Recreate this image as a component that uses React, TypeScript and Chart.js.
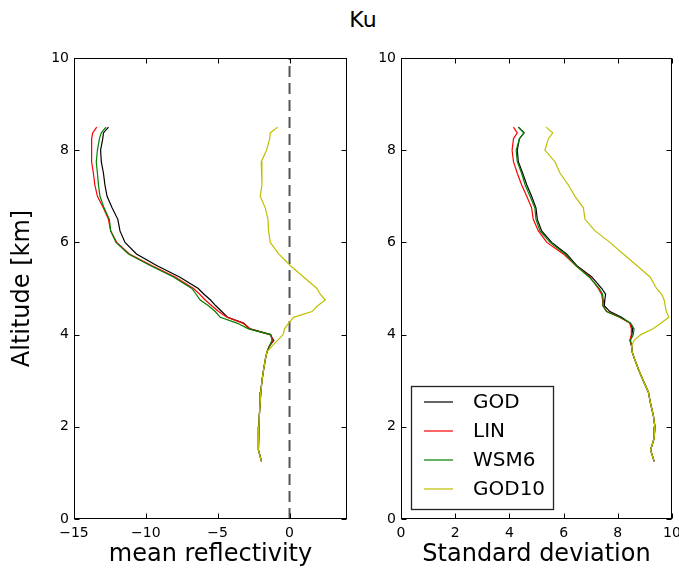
import React, { useEffect, useRef } from "react";
import { Chart, registerables } from "chart.js";

Chart.register(...registerables);

// ---------------- data ----------------
const altitude = [
  8.5, 8.375, 8.25, 8.0, 7.75, 7.5, 7.25, 7.0, 6.75, 6.5, 6.25, 6.0, 5.75, 5.5, 5.25, 5.0,
  4.875, 4.75, 4.625, 4.5, 4.375, 4.25, 4.125, 4.0, 3.875, 3.75, 3.625, 3.5, 3.25, 3.0,
  2.75, 2.5, 2.25, 2.0, 1.75, 1.5, 1.25,
];

// mean reflectivity
const godMean = [
  -12.6, -12.95, -13.0, -13.15, -13.1, -12.95, -12.85, -12.7, -12.35, -11.95, -11.8, -11.45,
  -10.65, -9.25, -7.65, -6.35, -5.95, -5.5, -5.13, -4.72, -4.3, -3.2, -2.75, -1.35, -1.1,
  -1.4, -1.57, -1.66, -1.8, -1.92, -2.0, -2.05, -2.1, -2.13, -2.15, -2.18, -1.95,
];
const linMean = [
  -13.42, -13.7, -13.77, -13.8, -13.75, -13.65, -13.55, -13.37, -12.96, -12.6, -12.45, -12.03,
  -11.14, -9.6, -7.95, -6.68, -6.25, -5.87, -5.41, -4.94, -4.36, -3.25, -2.75, -1.32, -1.15,
  -1.4, -1.57, -1.66, -1.8, -1.92, -2.0, -2.05, -2.1, -2.13, -2.15, -2.18, -1.95,
];
const wsm6Mean = [
  -12.77, -13.1, -13.23, -13.37, -13.45, -13.37, -13.3, -13.19, -12.91, -12.54, -12.45, -12.08,
  -11.21, -9.7, -8.08, -6.8, -6.5, -6.22, -5.64, -5.17, -4.82, -3.66, -2.85, -1.3, -1.22,
  -1.4, -1.57, -1.66, -1.8, -1.92, -2.0, -2.05, -2.1, -2.13, -2.15, -2.18, -1.95,
];
const god10Mean = [
  -0.83, -1.34, -1.38, -1.6, -1.97, -1.92, -1.92, -2.04, -1.69, -1.5, -1.46, -1.34,
  -0.76, 0.05, 0.98, 1.91, 2.14, 2.49, 1.96, 1.56, 0.28, -0.06, -0.35, -0.45, -0.83,
  -1.22, -1.57, -1.66, -1.8, -1.92, -2.0, -2.05, -2.1, -2.13, -2.15, -2.18, -1.95,
];

// standard deviation
const godStd = [
  4.33, 4.54, 4.37, 4.29, 4.33, 4.49, 4.64, 4.82, 4.98, 5.03, 5.19, 5.56, 6.11, 6.48, 7.04,
  7.41, 7.55, 7.52, 7.5, 7.71, 8.14, 8.45, 8.55, 8.52, 8.45, 8.51, 8.53, 8.6, 8.76, 8.94,
  9.13, 9.21, 9.31, 9.37, 9.34, 9.21, 9.34,
];
const linStd = [
  4.15, 4.29, 4.15, 4.1, 4.15, 4.29, 4.45, 4.64, 4.82, 4.88, 5.07, 5.38, 5.99, 6.45, 6.97,
  7.28, 7.4, 7.44, 7.45, 7.6, 8.07, 8.44, 8.5, 8.5, 8.45, 8.51, 8.53, 8.6, 8.76, 8.94,
  9.13, 9.21, 9.31, 9.37, 9.34, 9.21, 9.34,
];
const wsm6Std = [
  4.33, 4.54, 4.37, 4.25, 4.29, 4.45, 4.58, 4.76, 4.94, 4.98, 5.13, 5.5, 6.05, 6.45, 6.94,
  7.32, 7.44, 7.46, 7.45, 7.58, 8.07, 8.47, 8.6, 8.57, 8.47, 8.51, 8.53, 8.6, 8.76, 8.94,
  9.13, 9.21, 9.31, 9.37, 9.34, 9.21, 9.34,
];
const god10Std = [
  5.35, 5.6, 5.44, 5.31, 5.68, 5.87, 6.17, 6.42, 6.73, 6.79, 7.16, 7.71, 8.2, 8.7, 9.19,
  9.43, 9.62, 9.71, 9.75, 9.79, 9.88, 9.6, 9.3, 8.85, 8.6, 8.51, 8.53, 8.6, 8.76, 8.94,
  9.13, 9.21, 9.31, 9.37, 9.34, 9.21, 9.34,
];

const seriesNames = ["GOD", "LIN", "WSM6", "GOD10"];
const seriesColors = ["#000000", "#ff0000", "#008000", "#bfbf00"];

const meanTicks = [-15, -10, -5, 0];
const stdTicks = [0, 2, 4, 6, 8, 10];
const altTicks = [0, 2, 4, 6, 8, 10];

const zeroLineX = [0, 0];
const zeroLineY = [0, 10];

const figureTitle = "Ku";
const yTitle = "Altitude [km]";
const meanTitle = "mean reflectivity";
const stdTitle = "Standard deviation";

// ---------------- helpers ----------------
const FONT = "'DejaVu Sans', 'Bitstream Vera Sans', sans-serif";

const fmt = (v: number) => String(v).replace("-", "\u2212");

const framePlugin = {
  id: "frame",
  afterDraw(chart: any) {
    const { ctx, chartArea: a, scales } = chart;
    ctx.save();
    ctx.strokeStyle = "#000";
    ctx.lineWidth = 1;
    const L = Math.round(a.left) + 0.5;
    const R = Math.round(a.right) - 0.5;
    const T = Math.round(a.top) + 0.5;
    const B = Math.round(a.bottom) - 0.5;
    ctx.strokeRect(L, T, R - L, B - T);
    const tl = 5;
    ctx.beginPath();
    scales.x.ticks.forEach((t: any) => {
      const px = Math.round(scales.x.getPixelForValue(t.value)) + 0.5;
      ctx.moveTo(px, B);
      ctx.lineTo(px, B - tl);
      ctx.moveTo(px, T);
      ctx.lineTo(px, T + tl);
    });
    scales.y.ticks.forEach((t: any) => {
      const py = Math.round(scales.y.getPixelForValue(t.value)) + 0.5;
      ctx.moveTo(L, py);
      ctx.lineTo(L + tl, py);
      ctx.moveTo(R, py);
      ctx.lineTo(R - tl, py);
    });
    ctx.stroke();
    ctx.restore();
  },
};

const boxLegendPlugin = {
  id: "boxLegend",
  afterDraw(chart: any, _args: any, opts: any) {
    if (!opts || !opts.show) return;
    const { ctx, chartArea: a } = chart;
    const items = chart.data.datasets.filter((d: any) => !d.hideInLegend);
    const left = a.left + 10;
    const width = 142;
    const height = 123;
    const top = a.bottom - 10 - height;
    ctx.save();
    ctx.fillStyle = "#fff";
    ctx.fillRect(left, top, width, height);
    ctx.strokeStyle = "#222";
    ctx.lineWidth = 1.3;
    ctx.strokeRect(left + 0.5, top + 0.5, width, height);
    ctx.font = `20px ${FONT}`;
    ctx.textBaseline = "middle";
    ctx.textAlign = "left";
    items.forEach((d: any, i: number) => {
      const cy = top + 16 + i * 29;
      ctx.strokeStyle = d.borderColor;
      ctx.lineWidth = d.borderWidth;
      ctx.beginPath();
      ctx.moveTo(left + 13, cy);
      ctx.lineTo(left + 42, cy);
      ctx.stroke();
      ctx.fillStyle = "#000";
      ctx.fillText(d.label, left + 62, cy + 1);
    });
    ctx.restore();
  },
};

function makeDatasets(xs: number[][], withZero: boolean) {
  const ds: any[] = xs.map((vals, i) => ({
    label: seriesNames[i],
    data: vals.map((v, k) => ({ x: v, y: altitude[k] })),
    borderColor: seriesColors[i],
    backgroundColor: seriesColors[i],
    borderWidth: 1.2,
    pointRadius: 0,
    showLine: true,
    tension: 0,
    fill: false,
    // later series are drawn on top (as in the reference)
    order: xs.length - i,
  }));
  if (withZero) {
    ds.push({
      label: "zero",
      hideInLegend: true,
      data: zeroLineX.map((v, k) => ({ x: v, y: zeroLineY[k] })),
      borderColor: "#555555",
      borderWidth: 2,
      borderDash: [11, 6],
      pointRadius: 0,
      showLine: true,
      fill: false,
      order: 10,
    });
  }
  return ds;
}

function makeOptions(cfg: {
  xTicks: number[];
  xMin: number;
  xMax: number;
  xTitle: string;
  showYTitle: boolean;
  yWidth: number;
  padRight: number;
  legend: boolean;
}) {
  return {
    responsive: false,
    animation: false,
    events: [],
    layout: { padding: { top: 58, right: cfg.padRight, bottom: 0, left: 0 } },
    plugins: {
      legend: { display: false },
      tooltip: { enabled: false },
      boxLegend: { show: cfg.legend },
    },
    scales: {
      x: {
        type: "linear",
        position: "bottom",
        min: cfg.xMin,
        max: cfg.xMax,
        grid: { display: false, drawTicks: false },
        border: { display: false },
        afterBuildTicks: (s: any) => {
          s.ticks = cfg.xTicks.map((v) => ({ value: v }));
        },
        afterFit: (s: any) => {
          s.height = 50;
          s.paddingLeft = 0;
          s.paddingRight = 0;
        },
        ticks: {
          padding: 6,
          color: "#000",
          maxRotation: 0,
          autoSkip: false,
          font: { family: FONT, size: 14 },
          callback: (v: any) => fmt(v),
        },
        title: {
          display: true,
          text: cfg.xTitle,
          color: "#000",
          font: { family: FONT, size: 24 },
          padding: { top: 0, bottom: 0 },
        },
      },
      y: {
        type: "linear",
        position: "left",
        min: 0,
        max: 10,
        grid: { display: false, drawTicks: false },
        border: { display: false },
        afterBuildTicks: (s: any) => {
          s.ticks = altTicks.map((v) => ({ value: v }));
        },
        afterFit: (s: any) => {
          s.width = cfg.yWidth;
          s.paddingTop = 0;
          s.paddingBottom = 0;
        },
        ticks: {
          padding: 5,
          color: "#000",
          autoSkip: false,
          font: { family: FONT, size: 14 },
          callback: (v: any) => fmt(v),
        },
        title: {
          display: cfg.showYTitle,
          text: yTitle,
          color: "#000",
          font: { family: FONT, size: 24 },
          padding: { top: 8, bottom: 0 },
        },
      },
    },
  };
}

function Panel(props: {
  left: number;
  width: number;
  datasets: any[];
  options: any;
}) {
  const ref = useRef<HTMLCanvasElement | null>(null);
  useEffect(() => {
    if (!ref.current) return;
    const chart = new Chart(ref.current, {
      type: "scatter",
      data: { datasets: props.datasets },
      options: props.options,
      plugins: [framePlugin, boxLegendPlugin],
    } as any);
    return () => chart.destroy();
  }, []);
  return (
    <canvas
      ref={ref}
      width={props.width}
      height={569}
      style={{
        position: "absolute",
        left: props.left,
        top: 0,
        width: props.width,
        height: 569,
        display: "block",
      }}
    />
  );
}

export default function App() {
  const leftData = makeDatasets([godMean, linMean, wsm6Mean, god10Mean], true);
  const rightData = makeDatasets([godStd, linStd, wsm6Std, god10Std], false);
  const leftOpts = makeOptions({
    xTicks: meanTicks,
    xMin: -15,
    xMax: 4,
    xTitle: meanTitle,
    showYTitle: true,
    yWidth: 74,
    padRight: 15,
    legend: false,
  });
  const rightOpts = makeOptions({
    xTicks: stdTicks,
    xMin: 0,
    xMax: 10,
    xTitle: stdTitle,
    showYTitle: false,
    yWidth: 39,
    padRight: 7,
    legend: true,
  });
  return (
    <div
      style={{
        position: "absolute",
        left: 0,
        top: 0,
        width: 679,
        height: 569,
        background: "#fff",
        overflow: "hidden",
      }}
    >
      <div
        style={{
          position: "absolute",
          left: 303,
          top: 7,
          width: 120,
          textAlign: "center",
          fontFamily: FONT,
          fontSize: 22,
          lineHeight: "26px",
          color: "#000",
        }}
      >
        {figureTitle}
      </div>
      <Panel left={0} width={362} datasets={leftData} options={leftOpts} />
      <Panel left={362} width={317} datasets={rightData} options={rightOpts} />
    </div>
  );
}
